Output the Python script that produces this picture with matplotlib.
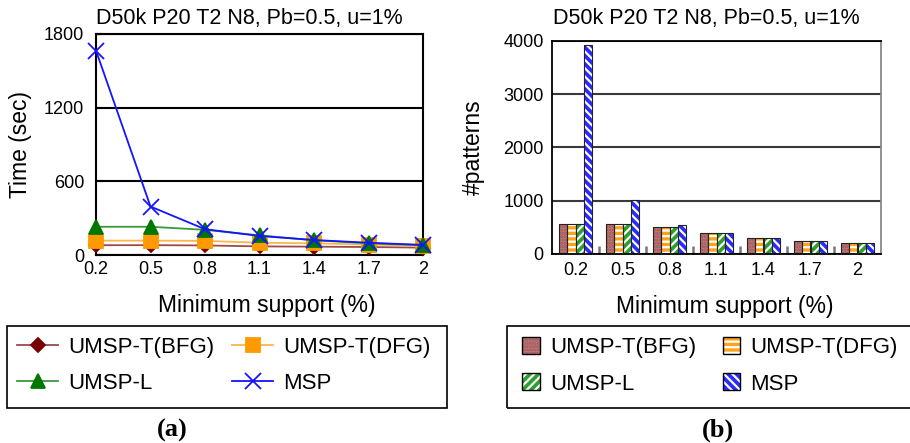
import numpy as np
import matplotlib
matplotlib.use("Agg")
import matplotlib.pyplot as plt
from matplotlib.patches import Patch, Rectangle
from matplotlib.legend_handler import HandlerTuple

plt.rcParams['font.family'] = ['Liberation Sans', 'DejaVu Sans']
plt.rcParams['hatch.linewidth'] = 1.6

# data
supports = ["0.2", "0.5", "0.8", "1.1", "1.4", "1.7", "2"]
series = ["UMSP-T(BFG)", "UMSP-T(DFG)", "UMSP-L", "MSP"]
time_bfg = [80, 80, 78, 70, 68, 65, 60]
time_dfg = [117, 117, 115, 100, 95, 85, 75]
time_l = [230, 230, 205, 160, 120, 95, 80]
time_msp = [1665, 395, 210, 155, 122, 100, 82]
pat_bfg = [570, 570, 505, 390, 300, 240, 200]
pat_dfg = [570, 570, 505, 390, 300, 240, 200]
pat_l = [570, 570, 505, 390, 300, 240, 200]
pat_msp = [3920, 1020, 550, 390, 300, 240, 200]

title = "D50k P20 T2 N8, Pb=0.5, u=1%"

fig = plt.figure(figsize=(9.1, 4.43), dpi=100)
ax1 = fig.add_axes([96/910, 1-255/443, 327/910, 221/443])
ax2 = fig.add_axes([552/910, 1-254/443, 329/910, 213.3/443])

# legend order: row-wise as in the paper (matplotlib fills by column)
order = [0, 2, 1, 3]

# ---- (a) running time ----
x = np.arange(len(supports))
styles = [
    (time_bfg, 'D', 7, '#7a0000', '#9c4a4a'),
    (time_dfg, 's', 10, '#ff9a00', '#ffb54a'),
    (time_l, '^', 10, '#007800', '#3a983a'),
    (time_msp, 'x', 11, '#1414ff', '#1414ff'),
]
lines = []
for (vals, mk, ms, mc, lc), name in zip(styles, series):
    ln, = ax1.plot(x, vals, color=lc, lw=1.3, marker=mk, ms=ms, mfc=mc, mec=mc,
                   mew=1.3, label=name, clip_on=False, zorder=3)
    lines.append(ln)
ax1.set_xlim(0, 6)
ax1.set_ylim(0, 1800)
ax1.set_yticks([0, 600, 1200, 1800])
ax1.set_xticks(x)
ax1.set_xticklabels(supports)
ax1.yaxis.grid(True, color='black', lw=1.5)
ax1.set_axisbelow(True)
for s in ax1.spines.values():
    s.set_linewidth(1.5)
ax1.tick_params(axis='y', direction='in', length=5, width=1.5, pad=8.6, labelsize=13)
ax1.tick_params(axis='x', length=0, pad=4.5, labelsize=13)
ax1.set_title(title, fontsize=15.5, pad=7, x=0.47)
ax1.set_ylabel("Time (sec)", fontsize=16.5)
ax1.yaxis.set_label_coords(-0.195, 0.5)
ax1.set_xlabel("Minimum support (%)", fontsize=16.5)
ax1.xaxis.set_label_coords(0.523, -0.175)

# ---- (b) number of patterns ----
w = 0.18
bar_styles = [
    (pat_bfg, '#c47a7a', '.....', '#9a5656'),
    (pat_dfg, '#ffa31a', '---', 'white'),
    (pat_l, '#2e9e2e', '////', 'white'),
    (pat_msp, '#2a2aff', '\\\\\\\\', 'white'),
]
handles = []
for i, (vals, fc, h, hc) in enumerate(bar_styles):
    pos = x + (i - 1.5) * w
    ax2.bar(pos, vals, w, color=fc, hatch=h, edgecolor=hc, linewidth=0, zorder=2)
    ax2.bar(pos, vals, w, fill=False, edgecolor='#222222', linewidth=0.8, zorder=3)
    handles.append((Patch(facecolor=fc, hatch=h, edgecolor=hc, linewidth=0),
                    Patch(fill=False, edgecolor='black', linewidth=1.0)))
ax2.set_xlim(-0.5, 6.5)
ax2.set_ylim(0, 4000)
ax2.set_yticks([0, 1000, 2000, 3000, 4000])
ax2.set_xticks(x)
ax2.set_xticklabels(supports)
ax2.set_xticks(np.arange(0.5, 6, 1), minor=True)
ax2.yaxis.grid(True, color='#3a3a3a', lw=1.5)
ax2.set_axisbelow(True)
for s in ax2.spines.values():
    s.set_linewidth(1.3)
ax2.spines['right'].set_color('#888888')
ax2.tick_params(axis='y', length=0, pad=6, labelsize=13)
ax2.tick_params(axis='x', which='major', length=0, pad=6, labelsize=13)
ax2.tick_params(axis='x', which='minor', direction='in', length=6, width=1.8, color='#777777')
ax2.set_title(title, fontsize=15.5, pad=12, x=0.47)
ax2.set_ylabel("#patterns", fontsize=16.5)
ax2.yaxis.set_label_coords(-0.205, 0.5)
ax2.set_xlabel("Minimum support (%)", fontsize=16.5)
ax2.xaxis.set_label_coords(0.526, -0.19)

# legends (boxes drawn separately so their size matches the paper)
fig.legend([lines[i] for i in order], [series[i] for i in order],
           loc='upper left', ncol=2, bbox_to_anchor=(17/910, 1-337/443),
           fontsize=16, frameon=False, borderpad=0, borderaxespad=0,
           labelspacing=0.68, handlelength=1.85, handletextpad=0.45,
           columnspacing=0.8)
fig.legend([handles[i] for i in order], [series[i] for i in order],
           handler_map={tuple: HandlerTuple(ndivide=1)},
           loc='upper left', ncol=2, bbox_to_anchor=(522/910, 1-337/443),
           fontsize=16, frameon=False, borderpad=0, borderaxespad=0,
           labelspacing=0.68, handlelength=0.8, handleheight=0.8,
           handletextpad=0.45, columnspacing=1.2)
for x0, x1 in [(7, 447), (507, 925)]:
    fig.add_artist(Rectangle((x0/910, 1-408/443), (x1-x0)/910, 82/443,
                             transform=fig.transFigure, fill=False,
                             edgecolor='black', linewidth=1.2))

fig.text(172/910, 1-430/443, "(a)", ha='center', va='center', fontsize=19,
         fontweight='bold', family='Liberation Serif')
fig.text(718/910, 1-430/443, "(b)", ha='center', va='center', fontsize=19,
         fontweight='bold', family='Liberation Serif')

fig.savefig("out.png", dpi=100)
